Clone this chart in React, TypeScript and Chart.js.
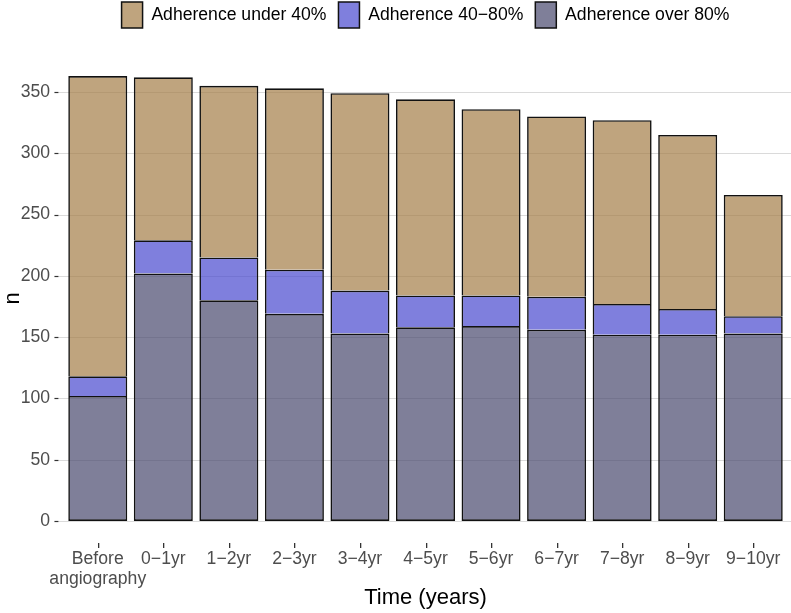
import React, { useEffect, useRef } from "react";
import { Chart, registerables } from "chart.js";

Chart.register(...registerables);

const categories: (string | string[])[] = [
  ["Before", "angiography"],
  "0−1yr",
  "1−2yr",
  "2−3yr",
  "3−4yr",
  "4−5yr",
  "5−6yr",
  "6−7yr",
  "7−8yr",
  "8−9yr",
  "9−10yr",
];

const seriesNames = ["Adherence over 80%", "Adherence 40−80%", "Adherence under 40%"];

const over80 = [102, 202, 180, 169, 153, 158, 159, 156, 152, 152, 153];
const mid40to80 = [16, 27, 35, 36, 35, 26, 25, 27, 25, 21, 14];
const under40 = [245, 133, 140, 148, 161, 160, 152, 147, 150, 142, 99];

const yTicks = [0, 50, 100, 150, 200, 250, 300, 350];
const yMin = -18;
const yMax = 381;

const FONT = "'Liberation Sans', Arial, sans-serif";

const panelPlugin = {
  id: "ggPanel",
  beforeLayout(chart: any) {
    const lg = chart.legend;
    if (lg && !lg.__patched) {
      lg.__patched = true;
      const orig = lg.fit.bind(lg);
      lg.fit = function () {
        orig();
        this.height = 64;
      };
    }
  },
  beforeDatasetsDraw(chart: any) {
    const { ctx, chartArea, scales } = chart;
    const x = scales.x;
    const y = scales.y;
    const cw = x.getPixelForValue(1) - x.getPixelForValue(0);
    const ext = cw * 0.1;
    const left = chartArea.left - ext;
    const right = chartArea.right + ext;
    ctx.save();
    ctx.lineWidth = 1.2;
    for (const v of yTicks) {
      const py = Math.round(y.getPixelForValue(v)) + 0.5;
      ctx.strokeStyle = "#DADADA";
      ctx.beginPath();
      ctx.moveTo(left, py);
      ctx.lineTo(right, py);
      ctx.stroke();
      ctx.strokeStyle = "#333333";
      ctx.beginPath();
      ctx.moveTo(left - 4, py);
      ctx.lineTo(left, py);
      ctx.stroke();
    }
    ctx.restore();
  },
  afterDraw(chart: any) {
    const { ctx, scales } = chart;
    const x = scales.x;
    const y = scales.y;
    const bottom = Math.round(y.getPixelForValue(yMin));
    ctx.save();
    ctx.fillStyle = "#333333";
    for (let i = 0; i < categories.length; i++) {
      const px = Math.round(x.getPixelForTick(i));
      ctx.fillRect(px, bottom, 1.3, 5);
    }
    ctx.restore();
  },
};

export default function App() {
  const ref = useRef<HTMLCanvasElement | null>(null);

  useEffect(() => {
    if (!ref.current) return;
    const full = { top: 1.6, left: 1.6, right: 1.6, bottom: 1.6 };
    const noBottom = { top: 1.6, left: 1.6, right: 1.6, bottom: 0 };
    const common = {
      borderColor: "#111111",
      borderSkipped: false as const,
    };
    const chart = new Chart(ref.current, {
      type: "bar",
      data: {
        labels: categories as any,
        datasets: [
          { label: seriesNames[0], data: over80, backgroundColor: "rgba(72,72,109,0.7)", borderWidth: full, ...common },
          { label: seriesNames[1], data: mid40to80, backgroundColor: "rgba(72,72,206,0.7)", borderWidth: noBottom, ...common },
          { label: seriesNames[2], data: under40, backgroundColor: "rgba(164,126,71,0.7)", borderWidth: noBottom, ...common },
        ],
      },
      options: {
        animation: false,
        responsive: false,
        maintainAspectRatio: false,
        datasets: {
          bar: { categoryPercentage: 1, barPercentage: 0.9 },
        },
        layout: { padding: { top: -10, right: 5, left: 0, bottom: 0 } },
        plugins: {
          tooltip: { enabled: false },
          legend: {
            position: "top",
            fullSize: false,
            reverse: true,
            labels: {
              boxWidth: 21,
              boxHeight: 26,
              padding: 12,
              color: "#000000",
              font: { family: FONT, size: 17.6 },
              generateLabels: (c: any) => {
                const items = Chart.defaults.plugins.legend.labels.generateLabels(c);
                return items.map((it: any) => ({ ...it, strokeStyle: "#111111", lineWidth: 1.5 }));
              },
            },
          },
        },
        scales: {
          x: {
            stacked: true,
            offset: true,
            afterFit: (scale: any) => {
              scale.height = 70;
            },
            grid: { display: false, drawTicks: false },
            border: { display: false },
            ticks: {
              color: "#4D4D4D",
              font: { family: FONT, size: 17.6, lineHeight: 1.15 },
              padding: 6,
              maxRotation: 0,
              autoSkip: false,
            },
            title: {
              display: true,
              text: "Time (years)",
              color: "#000000",
              font: { family: FONT, size: 22 },
              padding: { top: 0, bottom: 2 },
            },
          },
          y: {
            stacked: true,
            min: yMin,
            max: yMax,
            afterFit: (scale: any) => {
              scale.width = 65;
            },
            afterBuildTicks: (scale: any) => {
              scale.ticks = yTicks.map((v) => ({ value: v }));
            },
            grid: { display: false, drawTicks: false },
            border: { display: false },
            ticks: {
              color: "#4D4D4D",
              font: { family: FONT, size: 17.6 },
              padding: 15,
            },
            title: {
              display: true,
              text: "n",
              color: "#000000",
              font: { family: FONT, size: 22 },
              padding: { top: 0, bottom: 0 },
            },
          },
        },
      },
      plugins: [panelPlugin],
    });
    return () => chart.destroy();
  }, []);

  return (
    <div style={{ position: "fixed", left: 0, top: 0, width: 791, height: 613, background: "#fff" }}>
      <canvas ref={ref} width={791} height={613} style={{ width: 791, height: 613, display: "block" }} />
    </div>
  );
}
